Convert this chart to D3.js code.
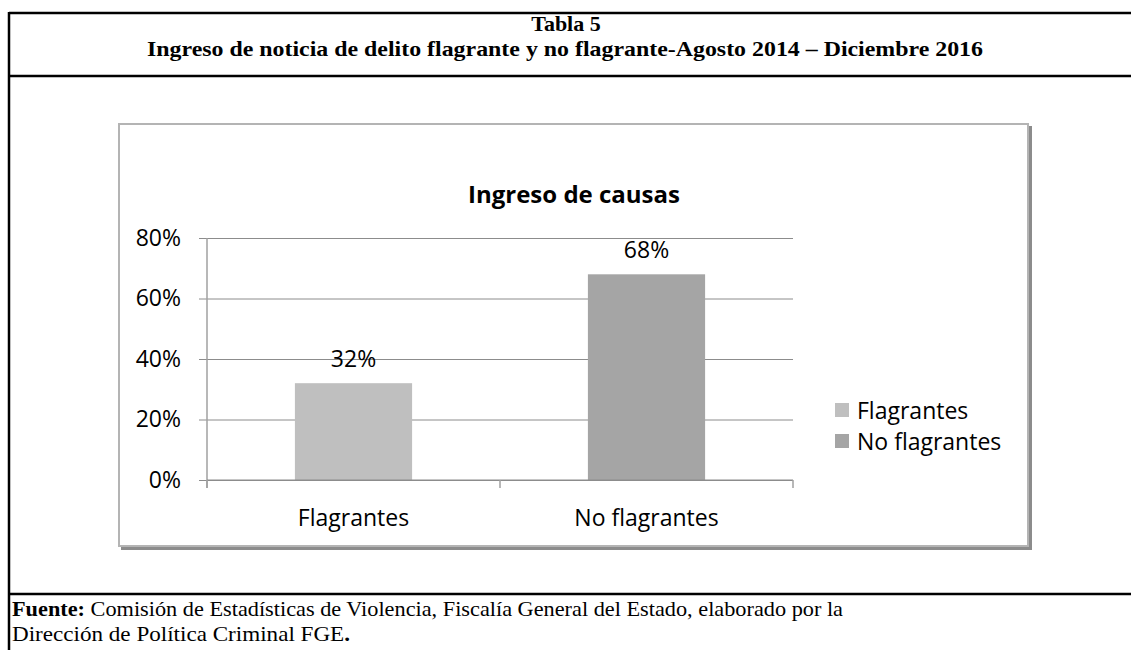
<!DOCTYPE html>
<html>
<head>
<meta charset="utf-8">
<title>Ingreso de causas</title>
<script src="https://cdn.jsdelivr.net/npm/d3@7"></script>
<style>
    body { margin: 0; padding: 0; background: #fff; }
    svg { display: block; }
    .serif { font-family: "Liberation Serif", "Times New Roman", serif; fill: #000; }
    .sans { font-family: "Open Sans", "Noto Sans", sans-serif; fill: #000; }
</style>
</head>
<body>
<svg id="chart" width="1131" height="650"></svg>
<script>
    // datos
    var categories = ["Flagrantes", "No flagrantes"];
    var values = [0.32, 0.68];
    var colors = ["#bfbfbf", "#a5a5a5"];
    var yTicks = [0, 0.2, 0.4, 0.6, 0.8];

    var svg = d3.select("#chart");

    // marco de la tabla
    var frame = svg.append("g").attr("stroke", "#000").attr("stroke-width", 2.5);
    frame.append("line").attr("x1", 9).attr("x2", 1131).attr("y1", 13).attr("y2", 13);
    frame.append("line").attr("x1", 9).attr("x2", 1131).attr("y1", 76).attr("y2", 76);
    frame.append("line").attr("x1", 9).attr("x2", 1131).attr("y1", 594).attr("y2", 594);
    frame.append("line").attr("x1", 9).attr("x2", 9).attr("y1", 12).attr("y2", 650);

    svg.append("text").attr("class", "serif")
        .attr("x", 566).attr("y", 31)
        .attr("text-anchor", "middle")
        .attr("font-size", 22).attr("font-weight", "bold")
        .text("Tabla 5");
    svg.append("text").attr("class", "serif")
        .attr("x", 565).attr("y", 56)
        .attr("text-anchor", "middle")
        .attr("font-size", 22).attr("font-weight", "bold")
        .attr("textLength", 836).attr("lengthAdjust", "spacingAndGlyphs")
        .text("Ingreso de noticia de delito flagrante y no flagrante-Agosto 2014 – Diciembre 2016");

    var foot = svg.append("text").attr("class", "serif")
        .attr("x", 12).attr("y", 616).attr("font-size", 21)
        .attr("textLength", 831).attr("lengthAdjust", "spacingAndGlyphs");
    foot.append("tspan").attr("font-weight", "bold").text("Fuente:");
    foot.append("tspan").text(" Comisión de Estadísticas de Violencia, Fiscalía General del Estado, elaborado por la");
    var foot2 = svg.append("text").attr("class", "serif")
        .attr("x", 12).attr("y", 641).attr("font-size", 21)
        .attr("textLength", 338).attr("lengthAdjust", "spacingAndGlyphs");
    foot2.append("tspan").text("Dirección de Política Criminal FGE");
    foot2.append("tspan").attr("font-weight", "bold").text(".");

    // caja del grafico con sombra
    svg.append("rect")
        .attr("x", 121).attr("y", 126).attr("width", 911).attr("height", 424)
        .attr("fill", "#8c8c8c");
    svg.append("rect")
        .attr("x", 119).attr("y", 124).attr("width", 909).attr("height", 422)
        .attr("fill", "#fff").attr("stroke", "#b4b4b4").attr("stroke-width", 2);

    svg.append("text").attr("class", "sans")
        .attr("x", 574).attr("y", 193)
        .attr("text-anchor", "middle").attr("dominant-baseline", "central")
        .attr("font-size", 24).attr("font-weight", "bold")
        .text("Ingreso de causas");

    // escalas
    var plotLeft = 207, plotRight = 793, plotTop = 238, plotBottom = 480;
    var y = d3.scaleLinear().domain([0, 0.8]).range([plotBottom, plotTop]);
    var x = d3.scaleBand().domain(categories).range([plotLeft, plotRight])
        .paddingInner(0.6).paddingOuter(0.3);
    var xb = d3.scaleBand().domain(categories).range([plotLeft, plotRight]);

    // lineas de cuadricula y eje y
    var yAxis = d3.axisLeft(y).tickValues(yTicks)
        .tickSize(-(plotRight - plotLeft)).tickPadding(18)
        .tickFormat(d3.format(".0%"));
    var gy = svg.append("g").attr("transform", "translate(" + plotLeft + ",0)").call(yAxis);
    gy.select(".domain").remove();
    gy.selectAll(".tick line").attr("stroke", "#8c8c8c").attr("x1", -8);
    gy.selectAll(".tick text").attr("class", "sans").attr("font-size", 23)
        .attr("fill", "#000").attr("x", -26);

    svg.append("line")
        .attr("x1", plotLeft).attr("x2", plotLeft)
        .attr("y1", plotTop).attr("y2", plotBottom + 8)
        .attr("stroke", "#a0a0a0").attr("stroke-width", 1.5);

    // barras
    svg.selectAll(".bar").data(values).enter().append("rect")
        .attr("class", "bar")
        .attr("x", function (d, i) { return x(categories[i]); })
        .attr("y", function (d) { return y(d); })
        .attr("width", x.bandwidth())
        .attr("height", function (d) { return plotBottom - y(d); })
        .attr("fill", function (d, i) { return colors[i]; });

    // eje x
    var gx = svg.append("g").attr("transform", "translate(0," + plotBottom + ")");
    gx.append("line").attr("x1", plotLeft).attr("x2", plotRight)
        .attr("stroke", "#8c8c8c");
    var bounds = categories.map(function (c) { return xb(c); }).concat([plotRight]);
    gx.selectAll(".xt").data(bounds).enter().append("line")
        .attr("x1", function (d) { return d; }).attr("x2", function (d) { return d; })
        .attr("y1", 0).attr("y2", 8)
        .attr("stroke", "#a0a0a0").attr("stroke-width", 1.5);
    gx.selectAll(".xl").data(categories).enter().append("text")
        .attr("class", "sans").attr("font-size", 23)
        .attr("text-anchor", "middle").attr("dominant-baseline", "central")
        .attr("x", function (d) { return xb(d) + xb.bandwidth() / 2; })
        .attr("y", 37)
        .text(function (d) { return d; });

    // etiquetas de datos
    svg.selectAll(".lbl").data(values).enter().append("text")
        .attr("class", "sans").attr("font-size", 23)
        .attr("text-anchor", "middle").attr("dominant-baseline", "central")
        .attr("x", function (d, i) { return x(categories[i]) + x.bandwidth() / 2; })
        .attr("y", function (d) { return y(d) - 25; })
        .text(function (d) { return d3.format(".0%")(d); });

    // leyenda
    var leg = svg.append("g").selectAll("g").data(categories).enter().append("g")
        .attr("transform", function (d, i) { return "translate(835," + (410 + i * 31) + ")"; });
    leg.append("rect").attr("x", 0).attr("y", -7).attr("width", 14).attr("height", 14)
        .attr("fill", function (d, i) { return colors[i]; });
    leg.append("text").attr("class", "sans").attr("font-size", 23)
        .attr("x", 22).attr("dominant-baseline", "central")
        .text(function (d) { return d; });
</script>
</body>
</html>
